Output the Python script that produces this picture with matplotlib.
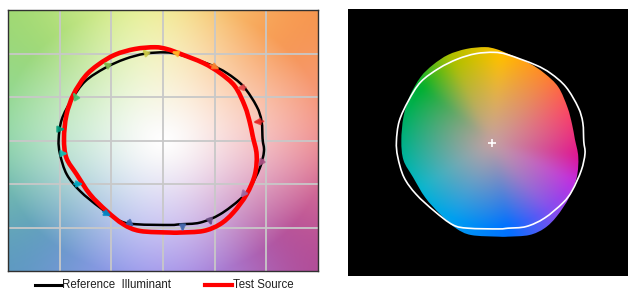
import numpy as np
import matplotlib
matplotlib.use('Agg')
import matplotlib.pyplot as plt
from matplotlib.colors import to_rgb
from matplotlib.patches import PathPatch
from matplotlib.path import Path
from matplotlib.lines import Line2D

# ---------------- data (normalized a', b' coordinates) ----------------
ref_x = [0.964, 0.954, 0.906, 0.777, 0.616, 0.455, 0.164, 0.019, -0.174, -0.367,
         -0.561, -0.754, -0.883, -0.980, -1.010, -0.996, -0.931, -0.803, -0.609, -0.416,
         -0.254, 0.068, 0.164, 0.358, 0.551, 0.745, 0.841, 0.938, 0.977]
ref_y = [0.011, 0.221, 0.393, 0.623, 0.776, 0.872, 0.986, 1.013, 0.998, 0.937,
         0.834, 0.680, 0.470, 0.241, 0.011, -0.161, -0.390, -0.581, -0.772, -0.925,
         -0.963, -0.971, -0.963, -0.944, -0.849, -0.677, -0.542, -0.313, -0.123]

test_x = [0.870, 0.841, 0.793, 0.696, 0.551, 0.390, 0.164, 0.040, -0.077, -0.271,
          -0.464, -0.626, -0.754, -0.867, -0.935, -0.958, -0.935, -0.835, -0.706,
          -0.545, -0.384, -0.222, 0.068, 0.164, 0.390, 0.551, 0.680, 0.809, 0.890, 0.906]
test_y = [0.040, 0.203, 0.393, 0.623, 0.776, 0.891, 0.998, 1.050, 1.072, 1.052,
          0.986, 0.872, 0.737, 0.527, 0.290, 0.020, -0.200, -0.390, -0.619,
          -0.811, -0.963, -1.040, -1.058, -1.058, -1.040, -0.963, -0.829, -0.619, -0.390, -0.161]

# hue-bin vectors (reference -> test), bins 1..16
bin_ref_x = [0.97, 0.80, 0.46, 0.14, -0.16, -0.53, -0.86, -0.99, -0.98, -0.86, -0.58, -0.34, 0.19, 0.45, 0.79, 0.97]
bin_ref_y = [0.22, 0.61, 0.87, 1.00, 1.00, 0.86, 0.53, 0.13, -0.15, -0.50, -0.82, -0.93, -0.97, -0.90, -0.60, -0.22]
bin_test_x = [0.87, 0.71, 0.55, 0.08, -0.20, -0.58, -0.87, -0.95, -0.92, -0.77, -0.50, -0.28, 0.19, 0.47, 0.75, 0.92]
bin_test_y = [0.21, 0.60, 0.82, 1.02, 1.05, 0.90, 0.55, 0.13, -0.15, -0.50, -0.87, -0.99, -1.05, -0.98, -0.66, -0.30]

legend_labels = ["Reference  Illuminant", "Test Source"]

# ---------------- styles ----------------
bin_colors = ['#e62828', '#e74b4b', '#fb812e', '#ffb529', '#cbca46', '#7eb94c', '#41c06d', '#009c7c',
              '#16bcb0', '#00a4bf', '#0085c3', '#3b62aa', '#4568ae', '#6a4e85', '#9d69a1', '#a74f81']

bg_angles = [0, 22.5, 45, 67.5, 90, 112.5, 135, 157.5, 180, 202.5, 225, 247.5, 270, 292.5, 315, 337.5]
bg_cols = ['#f29090', '#f69a78', '#f7944a', '#f8c070', '#f4f49a', '#d4ec8c', '#9ed870', '#94d890',
           '#90d8a8', '#70b8b0', '#5a98c0', '#8c98e8', '#a89cf0', '#a880d8', '#b04894', '#d06898']

blob_angles = [-9, 23, 51, 85, 114, 140, 178, 214, 244, 280, 308, 333]
blob_cols = ['#e01090', '#ff4060', '#ff8030', '#ffc000', '#b0c000', '#00b030', '#00b080',
             '#00b8d0', '#00a0f0', '#0070ff', '#8050f0', '#c030e0']


def hue_image(angles, cols, X, Y):
    ang = np.degrees(np.arctan2(Y, X)) % 360
    a = np.array(angles, float) % 360
    order = np.argsort(a)
    a = a[order]
    c = np.array([to_rgb(cols[i]) for i in order])
    a_ext = np.concatenate([a - 360, a, a + 360])
    c_ext = np.vstack([c, c, c])
    out = np.zeros(X.shape + (3,))
    for k in range(3):
        out[..., k] = np.interp(ang, a_ext, c_ext[:, k])
    return out


def blur(img, sigma):
    rad = int(3 * sigma)
    t = np.arange(-rad, rad + 1)
    k = np.exp(-0.5 * (t / sigma) ** 2)
    k /= k.sum()
    out = img.copy()
    for axis in (0, 1):
        pad = [(0, 0)] * 3
        pad[axis] = (rad, rad)
        p = np.pad(out, pad, mode='edge')
        out = np.apply_along_axis(lambda m: np.convolve(m, k, mode='valid'), axis, p)
    return out


def smooth_closed_path(xs, ys):
    # closed Catmull-Rom curve drawn as cubic Bezier segments
    P = np.column_stack([xs, ys])
    n = len(P)
    verts = [P[0]]
    codes = [Path.MOVETO]
    for i in range(n):
        p0, p1, p2, p3 = P[i - 1], P[i], P[(i + 1) % n], P[(i + 2) % n]
        c1 = p1 + (p2 - p0) / 6.0
        c2 = p2 - (p3 - p1) / 6.0
        verts += [c1, c2, p2]
        codes += [Path.CURVE4] * 3
    return Path(np.array(verts), codes)


fig = plt.figure(figsize=(6.28, 2.91), dpi=100)
fig.patch.set_facecolor('white')

# ---------------- left panel ----------------
ax = fig.add_axes([8 / 628, 20 / 291, 310 / 628, 261 / 291])
n = 240
g = np.linspace(-1.5, 1.5, n)
X, Y = np.meshgrid(g, g)
edge = blur(hue_image(bg_angles, bg_cols, X, Y), 20)
r = np.clip(np.sqrt(X ** 2 + Y ** 2) / 1.6, 0, 1)
s = (r ** 1.25)[..., None]
img = (1 - s) * 1.0 + s * edge
ax.imshow(np.clip(img, 0, 1), origin='lower', extent=[-1.5, 1.5, -1.5, 1.5], aspect='auto',
          interpolation='bilinear', zorder=0)
for v in [-1, -0.5, 0, 0.5, 1]:
    ax.axvline(v, color='#c8c8c8', lw=1.3, zorder=1)
    ax.axhline(v, color='#c8c8c8', lw=1.3, zorder=1)

ax.add_patch(PathPatch(smooth_closed_path(ref_x, ref_y), facecolor='none', edgecolor='black',
                       lw=1.8, zorder=3))
ax.add_patch(PathPatch(smooth_closed_path(test_x, test_y), facecolor='none', edgecolor='#ff0000',
                       lw=3.3, zorder=4))
for rx, ry, tx, ty, c in zip(bin_ref_x, bin_ref_y, bin_test_x, bin_test_y, bin_colors):
    ax.annotate('', xy=(tx, ty), xytext=(rx, ry), zorder=5,
                arrowprops=dict(arrowstyle='-|>', color=c, lw=1.6, alpha=0.8,
                                mutation_scale=9, shrinkA=0, shrinkB=0))
ax.set_xlim(-1.5, 1.5)
ax.set_ylim(-1.5, 1.5)
ax.set_xticks([])
ax.set_yticks([])
for sp in ax.spines.values():
    sp.set_color('#303030')
    sp.set_linewidth(1.0)

# legend
fy = 1 - 285 / 291
fig.add_artist(Line2D([35 / 628, 62 / 628], [fy, fy], color='black', lw=2.2))
fig.text(62 / 628, fy, legend_labels[0], fontsize=8.3, va='center', ha='left',
         family='Liberation Sans', color='#202020')
fig.add_artist(Line2D([205 / 628, 232 / 628], [fy, fy], color='#ff0000', lw=3.0))
fig.text(233 / 628, fy, legend_labels[1], fontsize=8.3, va='center', ha='left',
         family='Liberation Sans', color='#202020')

# ---------------- right panel ----------------
ax2 = fig.add_axes([348 / 628, 15 / 291, 280 / 628, 267 / 291])
ax2.set_facecolor('black')
ax2.set_xticks([])
ax2.set_yticks([])
for sp in ax2.spines.values():
    sp.set_visible(False)

g2 = np.linspace(-1.2, 1.2, n)
X2, Y2 = np.meshgrid(g2, g2)
edge2 = blur(hue_image(blob_angles, blob_cols, X2, Y2), 4)
r2 = np.clip(np.sqrt(X2 ** 2 + Y2 ** 2) / 0.95, 0, 1)
s2 = (r2 ** 1.1)[..., None]
centre = np.array(to_rgb('#c4a0a0'))
img2 = (1 - s2) * centre + s2 * edge2
clip = PathPatch(smooth_closed_path(test_x, test_y), facecolor='none',
                 edgecolor='none', transform=ax2.transData)
ax2.add_patch(clip)
im2 = ax2.imshow(np.clip(img2, 0, 1), origin='lower', extent=[-1.2, 1.2, -1.2, 1.2], aspect='auto',
                 interpolation='bilinear', zorder=1)
im2.set_clip_path(clip)
ax2.add_patch(PathPatch(smooth_closed_path(ref_x, ref_y), facecolor='none', edgecolor='white',
                        lw=1.2, zorder=3))
ax2.plot([0], [0], marker='+', color='white', ms=6, mew=1.2, zorder=4)
ax2.set_xlim(-1.52, 1.43)
ax2.set_ylim(-1.5, 1.5)

fig.savefig('out.png', dpi=100)
